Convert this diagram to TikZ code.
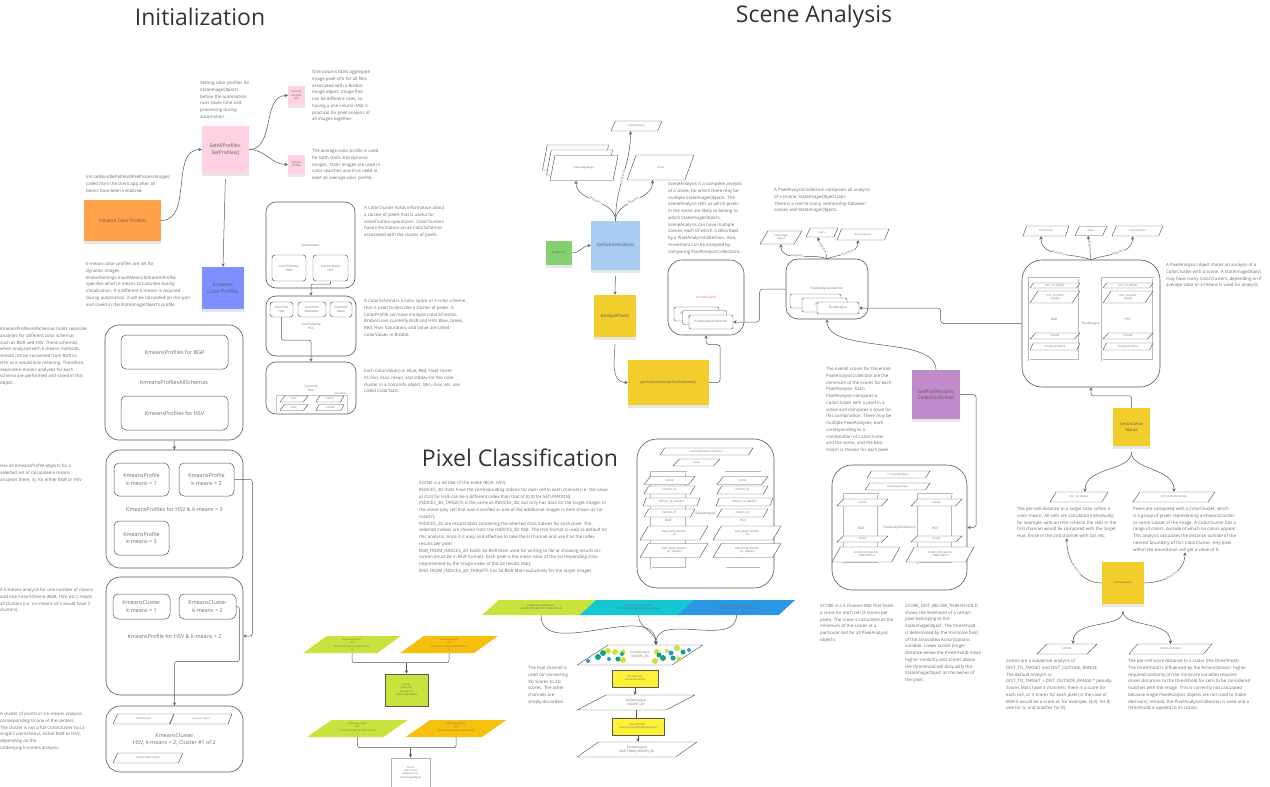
\documentclass[tikz,border=0pt]{standalone}
\usepackage{fontspec}
\setmainfont{Open Sans}
\usepackage{tikz}
\usetikzlibrary{positioning,shapes.geometric,shadows}

\definecolor{notegray}{HTML}{6B6B6B}
\definecolor{linegray}{HTML}{555555}
\definecolor{titlegray}{HTML}{333333}
\definecolor{orangeS}{HTML}{FFA149}
\definecolor{pinkS}{HTML}{FFD1E3}
\definecolor{blueS}{HTML}{7F8FFF}
\definecolor{skyS}{HTML}{A9CCF3}
\definecolor{greenS}{HTML}{86D16F}
\definecolor{yellowS}{HTML}{F2CE2C}
\definecolor{purpleS}{HTML}{C18ACB}
\definecolor{brightY}{HTML}{FFF236}
\definecolor{limeC}{HTML}{C9E23C}
\definecolor{cyanC}{HTML}{15C7D0}
\definecolor{blueC}{HTML}{2C96E6}
\definecolor{goldC}{HTML}{F7C00E}
\definecolor{dotTeal}{HTML}{17A086}
\definecolor{pinkT}{HTML}{E8559B}

\begin{document}
\begin{tikzpicture}[
  x=1pt, y=-1pt,
  >=stealth,
  every node/.style={text=notegray},
  wh/.style 2 args={minimum width=#1pt, minimum height=#2pt},
  ft/.style={font=\fontsize{2.5}{3.3}\selectfont},
  fs/.style={font=\fontsize{3.1}{4}\selectfont},
  fm/.style={font=\fontsize{4.6}{6}\selectfont},
  fb/.style={font=\fontsize{5.4}{7.4}\selectfont},
  title/.style={font=\fontsize{23}{28}\selectfont, text=titlegray},
  note/.style={anchor=north west, align=left, inner sep=0pt, font=\fontsize{4.4}{6.75}\selectfont},
  sticky/.style={rectangle, fill=#1, align=center, inner sep=1pt, text=black!65, fm,
    drop shadow={shadow xshift=0pt, shadow yshift=-2.5pt, opacity=.2}},
  frame/.style={draw=linegray, line width=.6pt, rounded corners=14pt, align=center, fb},
  inbox/.style={draw=linegray, line width=.5pt, rounded corners=5pt, align=center, fb},
  tinybox/.style={draw=linegray, line width=.45pt, rounded corners=3pt, align=center, inner sep=0pt, fs},
  para/.style={trapezium, trapezium left angle=55, trapezium right angle=125, trapezium stretches=true,
    draw=linegray, line width=.45pt, fill=white, inner sep=0pt, align=center, ft},
  lowpara/.style={para, trapezium left angle=40, trapezium right angle=140},
  flat/.style={trapezium left angle=35, trapezium right angle=145},
  column/.style={draw=gray!55, double=white, double distance=.5pt, inner sep=0pt, fs},
  method/.style={rectangle, fill=brightY, draw=gray!70!black, line width=.8pt, align=center, inner sep=0pt, ft, text=black!60},
  link/.style={draw=linegray, line width=.5pt},
  lbl/.style={font=\fontsize{3}{3.6}\selectfont, fill=white, inner sep=.5pt, sloped}
]
\useasboundingbox (0,0) rectangle (1270,787);

% TITLES
\node[title] (tInit) at (200,17) {Initialization};
\node[title] (tScene) at (814,17) {Scene Analysis};
\node[title] (tPixel) at (520,458) {Pixel Classification};

% INITIALIZATION
\node[sticky=orangeS, wh={77}{41}] (initCP) at (122.5,220.5) {Initialize Color Profiles};
\node[sticky=pinkS, wh={47}{47}, font=\fontsize{5}{6.5}\selectfont] (setProf) at (225.5,149.5) {SetAllProfiles.\\SetProfiles()};
\node[sticky=pinkS, wh={17}{19}, ft] (setMats) at (296.5,95.5) {SetOneC\\olumnM\\ats()};
\node[sticky=pinkS, wh={17}{19}, ft] (setColor) at (296.5,164.5) {SetColor\\Profile()};
\node[sticky=blueS, wh={42}{42}, font=\fontsize{5}{6.5}\selectfont] (kmeansCP) at (223,288) {k-means\\Color Profiles};

\draw[link,->] (initCP.east) to[out=0,in=180] (setProf.west);
\draw[link,->] (setProf.east) to[out=0,in=180] (setMats.west);
\draw[link,->] (setProf.east) to[out=0,in=180] (setColor.west);
\draw[link,->,shorten <=6pt] (setProf.south) -- (kmeansCP.north);

\node[note] (nInit) at (86,175) {Init.setBundlePathAndPreProcessImages:\\called from the client app after all\\beans have been initialized.};
\node[note] (nSetProf) at (200,81) {Setting color profiles for\\StateImageObjects\\before the automation\\runs saves time and\\processing during\\automation.};
\node[note] (nMats) at (312,70) {One column Mats aggregate\\image pixel info for all files\\associated with a Brobot\\image object. Image files\\can be different sizes, so\\having a one column Mat is\\practical for pixel analysis of\\all images together.};
\node[note] (nAvg) at (312,149) {The average color profile is used\\for both static and dynamic\\images. Static images are used in\\color searches and thus need at\\least an average color profile.};
\node[note] (nKmeans) at (86,262) {k-means color profiles are set for\\dynamic images.\\BrobotSettings.maxKMeansToStoreInProfile\\specifies which k-means to calculate during\\initialization. If a different k-means is required\\during automation, it will be calculated on the spot\\and saved in the StateImageObject's profile.};

% KMEANS PROFILES
\node[frame, wh={138}{115}] (allSchemas) at (174,382.5) {KmeansProfilesAllSchemas};
\node[inbox, wh={107}{34}] (bgrProfiles) at (174.5,352) {KmeansProfiles for BGR};
\node[inbox, wh={107}{34}] (hsvProfiles) at (174.5,413) {KmeansProfiles for HSV};

\node[frame, wh={137}{118}] (hsvK3) at (174.5,509) {KmeansProfiles for HSV \& k-means = 3};
\node[inbox, wh={55}{33}] (prof1) at (141.5,479.5) {KmeansProfile\\k-means = 1};
\node[inbox, wh={55}{33}] (prof2) at (206.5,479.5) {KmeansProfile\\k-means = 2};
\node[inbox, wh={55}{34}] (prof3) at (141.5,538) {KmeansProfile\\k-means = 3};

\node[frame, wh={137}{118}] (hsvK2) at (174.5,636) {KmeansProfile for HSV \& k-means = 2};
\node[inbox, wh={57}{25}] (clus1) at (141.5,606.5) {KmeansCluster\\k-means = 1};
\node[inbox, wh={57}{25}] (clus2) at (207.5,606.5) {KmeansCluster\\k-means = 2};

\node[frame, wh={137}{66}] (kCluster) at (174.5,739) {KmeansCluster\\HSV, k-means = 2, Cluster \#1 of 2};
\node[para, wh={61}{10}] (kSchema) at (143.5,719) {ColorSchema};
\node[para, wh={62}{10}] (kCenter) at (201,719) {k-means center};
\node[para, wh={70}{10}] (kPixels) at (148,758) {pixels (mask of Mat)};

\draw[link,->] (allSchemas.south) -- (hsvK3.north);
\draw[link,->,rounded corners=2pt] (prof2.east) -- ++(18,0) |- (hsvK2.east);
\draw[link,->,rounded corners=2pt] (clus2.east) -- ++(3,0) -- ++(0,55) -| (kCluster.north);

\node[note] (nAll) at (0,327) {KmeansProfilesAllSchemas holds separate\\analyses for different color schemas\\such as BGR and HSV. These schemas,\\when analyzed with k-means methods,\\should not be converted from BGR to\\HSV as it would lose meaning. Therefore,\\separate k-means analyses for each\\schema are performed and saved in this\\object.};
\node[note] (nHas) at (0,464) {Has all KmeansProfile objects for a\\selected set of calculated k-means\\analyses (here, 3), for either BGR or HSV};
\node[note] (nProfile) at (0,588) {A k-means analysis for one number of means\\and one ColorSchema (BGR, HSV, etc.). Holds\\all clusters (i.e. a k-means of 3 would have 3\\clusters).};
\node[note] (nCluster) at (0,712) {A cluster of points in a k-means analysis\\corresponding to one of the centers.\\The cluster is not a full ColorCluster but a\\single ColorSchema, either BGR or HSV,\\depending on the\\underlying k-means analysis.};

% COLOR CLUSTER
\node[frame, rounded corners=10pt, wh={89}{86}, fs] (ccBox) at (310.5,245) {ColorCluster};
\node[tinybox, wh={34}{26}] (csBGR) at (289,268) {ColorSchema\\BGR};
\node[tinybox, wh={35}{26}] (csHSV) at (330.5,268) {ColorSchema\\HSV};

\node[frame, rounded corners=10pt, wh={90}{60}, fs] (csBox) at (311,326) {ColorSchema\\HSV};
\node[tinybox, wh={23}{15}] (ciHue) at (281.5,309.5) {ColorInfo\\Hue};
\node[tinybox, wh={28}{15}] (ciSat) at (312,309.5) {ColorInfo\\Saturation};
\node[tinybox, wh={22}{15}] (ciVal) at (341,309.5) {ColorInfo\\Value};

\node[frame, rounded corners=10pt, wh={90}{52}, fs] (ciBox) at (311,388) {ColorInfo\\Hue};
\node[draw=gray!45, wh={71}{19}, inner sep=0pt] (stats) at (311.5,404.5) {};
\node[ft, anchor=south east, inner sep=.5pt] (statsLbl) at (stats.north east) {ColorStats};
\node[para, wh={28}{6}] (sMin) at (294,399) {MIN};
\node[para, wh={28}{6}] (sMax) at (294,407.5) {MAX};
\node[para, wh={28}{6}] (sMean) at (330,399) {MEAN};
\node[para, wh={28}{6}] (sStd) at (330,407.5) {STDDEV};

\draw[link,->,rounded corners=1pt] (csHSV.south) -- ++(0,3) -| (csBox.north);
\draw[link,->,rounded corners=2pt] (ciHue.south) -- ++(0,23) -| (ciBox.north);

\node[note] (nCC) at (364,206) {A ColorCluster holds information about\\a cluster of pixels that is useful for\\classification operations. ColorClusters\\have information on all ColorSchemas\\associated with the cluster of pixels.};
\node[note] (nCS) at (364,299) {A ColorSchema is a color space or a color scheme\\that is used to describe a cluster of pixels. A\\ColorProfile can have multiple ColorSchemas.\\Brobot uses currently BGR and HSV. Blue, Green,\\Red, Hue, Saturation, and Value are called\\ColorValues in Brobot.};
\node[note] (nCI) at (364,369) {Each ColorValue (i.e. Blue, Red, Hue) stores\\its min, max, mean, and stddev for the color\\cluster in a ColorInfo object. Min, max, etc. are\\called ColorStats.};

% SCENE ANALYSIS
\node[para, wh={66}{25}] (sio1) at (575.5,157.5) {\phantom{StateImageObject}};
\node[para, wh={66}{25}] (sio2) at (579.5,162.5) {\phantom{StateImageObject}};
\node[para, wh={68}{25}] (sio3) at (584,168) {StateImageObject};
\node[para, wh={51}{10}] (act1) at (636.5,126) {ActionOptions};
\node[para, wh={67}{25}] (scene1) at (660.5,167.5) {Scene};

\node[sticky=greenS, wh={26}{24}, ft] (findColor) at (559,253) {FindByColor};
\node[sticky=skyS, wh={49}{49}] (getSA) at (615.5,245.5) {GetSceneAnalysis};
\node[sticky=yellowS, wh={42}{42}] (analyze) at (615,316) {AnalyzePixels};
\node[sticky=yellowS, wh={81}{45}, font=\fontsize{3.6}{4.5}\selectfont] (getGroups) at (668.5,382.5) {getAnalysisGroupsForOneScene()};

\draw[link,->] (getSA.north) to[out=90,in=-90] node[lbl] {Requires} ([xshift=-8pt]sio3.south);
\draw[link,->] (getSA.north) to[out=90,in=-90] node[lbl] {Optional} ([xshift=-6pt]act1.south);
\draw[link,->] (getSA.north) to[out=90,in=-90] node[lbl] {Requires} ([xshift=-8pt]scene1.south);
\draw[link,->] (findColor.east) to[out=0,in=180] (getSA.west);
\draw[link,->,shorten <=6pt] (getSA.south) -- (analyze.north);
\draw[link,->,shorten <=7pt] (analyze.south) to[out=-90,in=180] (getGroups.west);

\node[frame, wh={76}{75}, fs, text=pinkT] (saBox) at (706,297.5) {SceneAnalysis};
\node[tinybox, rounded corners=2pt, fill=white, wh={45}{14}] (sapac1) at (696.5,314) {PixelAnalysisCollection};
\node[tinybox, rounded corners=2pt, fill=white, wh={44}{14}] (sapac2) at (704.5,317.5) {PixelAnalysisCollection};
\node[tinybox, rounded corners=2pt, fill=white, wh={44}{14}] (sapac3) at (711,322) {PixelAnalysisCollection};
\draw[link,->,rounded corners=3pt] (getGroups.east) -- ++(11,0) -- ++(0,-38) -| (saBox.south);

\node[frame, rounded corners=12pt, wh={82}{60}, fs] (pacBox) at (827,289) {PixelAnalysisCollection};
\node[tinybox, rounded corners=2pt, fill=white, wh={51}{14}] (pa1) at (815.5,301) {PixelAnalysis};
\node[tinybox, rounded corners=2pt, fill=white, wh={45}{14}] (pa2) at (824.5,305) {PixelAnalysis};
\node[tinybox, rounded corners=2pt, fill=white, wh={42}{12}] (pa3) at (838,308) {PixelAnalysis};
\draw[link,->,rounded corners=3pt] (pacBox.west) -- ++(-26,0) |- (sapac3.east);

\node[para, wh={42}{13}] (sio4) at (781,237.5) {StateImage\\Object};
\node[para, wh={32}{9}] (scene2) at (822,232.5) {Scene};
\node[para, wh={52}{11}] (act2) at (863,234.5) {ActionOptions};
\draw[link,->] (pacBox.north) to[out=160,in=-90] node[lbl] {Requires} (sio4.south);
\draw[link,->] (pacBox.north) to[out=95,in=-80] node[lbl] {Optional} ([xshift=-4pt]scene2.south);
\draw[link,->] (pacBox.north) to[out=20,in=-90] node[lbl] {Requires} ([xshift=-5pt]act2.south);

\node[sticky=purpleS, wh={48}{49}, font=\fontsize{4.8}{6.2}\selectfont] (getPACS) at (936,394.5) {GetPixelAnalysis\\CollectionScores};
\draw[link,->] (getPACS.north) .. controls +(0,-35) and +(0,35) .. (pacBox.south);

\node[note] (nSA) at (668,182) {SceneAnalysis is a complete analysis\\of a scene, for which there may be\\multiple StateImageObjects. The\\SceneAnalysis tells us which pixels\\in the scene are likely to belong to\\which StateImageObjects.\\SceneAnalysis can have multiple\\scenes, each of which is described\\by a PixelAnalysisCollection. Also,\\movement can be analyzed by\\comparing PixelAnalysisCollections.};
\node[note] (nPAC) at (774,188) {A PixelAnalysisCollection comprises all analysis\\of a (scene, StateImageObject) pair.\\There is a one-to-many relationship between\\scenes and StateImageObjects.};
\node[note] (nScores) at (826,367) {The overall scores for the entire\\PixelAnalysisCollection are the\\minimum of the scores for each\\PixelAnalysis. Each\\PixelAnalysis compares a\\ColorCluster with a pixel in a\\scene and computes a score for\\this combination. There may be\\multiple PixelAnalyses, each\\corresponding to a\\combination of ColorCluster\\and the scene, and the best\\match is chosen for each pixel.};

% PIXEL ANALYSIS
\node[frame, rounded corners=20pt, wh={138}{127}, fs] (paBox) at (1091,323.5) {PixelAnalysis};
\node[column, wh={50}{82}] (paBGR) at (1054,319) {BGR};
\node[column, wh={51}{82}] (paHSV) at (1127.5,319) {HSV};
\node[para, wh={50}{5}] (dttB) at (1055,285.5) {DIST\_TO\_TARGET};
\node[para, wh={50}{12}] (dorB) at (1055,297) {DIST\_OUTSIDE\\\_RANGE};
\node[para, wh={50}{6}] (scB) at (1055,336) {SCORES};
\node[para, wh={50}{7}] (sdB) at (1055,346.5) {SCORE\_DISTANCE};
\node[para, wh={50}{5}] (dttH) at (1128,285.5) {DIST\_TO\_TARGET};
\node[para, wh={50}{12}] (dorH) at (1128,297) {DIST\_OUTSIDE\\\_RANGE};
\node[para, wh={50}{6}] (scH) at (1128,336) {SCORES};
\node[para, wh={50}{7}] (sdH) at (1128,346.5) {SCORE\_DISTANCE};
\draw[link,->,rounded corners=3pt] (paBox.west) -- ++(-81,0) |- (pa3.east);

\node[para, wh={46}{10}] (ccP) at (1046,231) {ColorCluster};
\node[para, wh={32}{9}] (scene3) at (1091,231) {Scene};
\node[para, wh={51}{10}] (act3) at (1137.5,231) {ActionOptions};
\draw[link,->] (paBox.north) to[out=160,in=-90] node[lbl] {Requires} ([xshift=-5pt]ccP.south);
\draw[link,->] (paBox.north) to[out=95,in=-80] node[lbl] {Optional} ([xshift=-3pt]scene3.south);
\draw[link,->] (paBox.north) to[out=20,in=-90] node[lbl] {Requires} ([xshift=-5pt]act3.south);

\node[note] (nPA) at (1166,263) {A PixelAnalysis object stores an analysis of a\\ColorCluster with a scene. A StateImageObject\\may have many ColorClusters, depending on if\\average color or k-means is used for analysis.};

\node[sticky=yellowS, wh={37}{38}, font=\fontsize{4}{5.4}\selectfont] (getDist) at (1131.5,427) {GetDistance\\Matrix};
\draw[link,->,rounded corners=2pt] (getDist.north) -- ++(0,-12) -| (paBox.south);
\node[lowpara, wh={58}{10}] (dtt) at (1079,497) {DIST\_TO\_TARGET};
\node[lowpara, wh={82}{10}] (dor) at (1174,497) {DIST\_OUTSIDE\_RANGE};
\draw[link,->,shorten <=6pt] (getDist.south) to[out=-90,in=90] ([xshift=6pt]dtt.north);
\draw[link,->,shorten <=6pt] (getDist.south) to[out=-90,in=90] (dor.north);

\node[note] (nDtt) at (1017,507) {The per-cell distance to a target color (often a\\color mean). All cells are calculated individually;\\for example, with an HSV schema the cells in the\\first channel would be compared with the target\\Hue, those in the 2nd channel with Sat, etc.};
\node[note] (nDor) at (1133,507) {Pixels are compared with a ColorCluster, which\\is a group of pixels representing a KmeansCluster\\or some subset of the image. A ColorCluster has a\\range of colors, outside of which no colors appear.\\This analysis calculates the distance outside of the\\nearest boundary of this ColorCluster. Any pixel\\within the boundaries will get a value of 0.};

\node[sticky=yellowS, wh={42}{42}, ft] (getScores) at (1123,583) {GetPixelScores};
\draw[link,->] (getScores.west) to[out=180,in=-90] node[lbl] {Requires} (nDtt.south);
\draw[link,->] (getScores.east) to[out=0,in=-90] node[lbl] {Requires} (nDor.south);
\node[lowpara, wh={60}{10}] (scores) at (1067,649) {SCORES};
\node[lowpara, wh={83}{10}] (scoreDist) at (1170.5,649) {SCORE\_DISTANCE};
\draw[link,->,shorten <=7pt] (getScores.south) to[out=-90,in=90] ([xshift=6pt]scores.north);
\draw[link,->,shorten <=7pt] (getScores.south) to[out=-90,in=90] (scoreDist.north);

\node[note] (nSc) at (1006,659) {Scores are a subjective analysis of\\DIST\_TO\_TARGET and DIST\_OUTSIDE\_RANGE.\\The default analysis is:\\DIST\_TO\_TARGET + DIST\_OUTSIDE\_RANGE * penalty.\\Scores Mats have 3 channels: there is a score for\\each cell, or 3 scores for each pixel (in the case of\\BGR it would be a score at, for example, (4,0), for B,\\one for G, and another for R).};
\node[note] (nSd) at (1128,659) {The per-cell score distance to a scalar (the threshhold).\\The threshhold is influenced by the ActionOptions: higher\\required similarity (in the minScore variable) requires\\closer distances to the threshhold for cells to be considered\\matches with the image. This is currently not calculated\\because single PixelAnalysis objects are not used to make\\decisions; instead, the PixelAnalysisCollection is used and a\\threshhold is applied to its scores.};

% PIXEL ANALYSIS COLLECTION
\node[frame, rounded corners=20pt, wh={135}{125}, fs] (pcBox) at (899.5,527.5) {PixelAnalysisCollection};
\node[para, wh={63}{7}] (pcList) at (898.5,474.5) {List<PixelAnalysis>};
\node[para, wh={65}{7}] (pcSIO) at (897.5,486.5) {StateImageObject};
\node[column, wh={34}{69}] (pcBGR) at (861,528.5) {BGR};
\node[column, wh={34}{69}] (pcHSV) at (935,528.5) {HSV};
\node[para, wh={51}{7}] (pcSceneB) at (862.5,502.5) {SCENE};
\node[para, wh={51}{6}] (pcScoreB) at (862.5,539) {SCORE};
\node[para, wh={68}{15}] (pcDistB) at (866,554.5) {SCORE\_DIST\_BELOW\\\_THRESHHOLD};
\node[para, wh={51}{7}] (pcSceneH) at (936.5,502.5) {SCENE};
\node[para, wh={51}{6}] (pcScoreH) at (936.5,539) {SCORE};
\node[para, wh={68}{15}] (pcDistH) at (940,554.5) {SCORE\_DIST\_BELOW\\\_THRESHHOLD};
\draw[link,->,rounded corners=3pt] (getPACS.east) -- ++(16,0) |- (pcBox.east);

\node[note] (nScore) at (820,604) {SCORE is a 3 channel Mat that holds\\a score for each cell (3 scores per\\pixel). The score is calculated as the\\minimum of the scores at a\\particular cell for all PixelAnalysis\\objects.};
\node[note] (nBelow) at (905,604) {SCORE\_DIST\_BELOW\_THRESHHOLD\\shows the likelihood of a certain\\pixel belonging to this\\StateImageObject. The threshhold\\is determined by the minScore field\\of the associated ActionOptions\\variable. Lower scores (larger\\distance below the threshhold) mean\\higher similarity and scores above\\the threshhold will disqualify this\\StateImageObject as the owner of\\the pixel.};

% SCENE ANALYSIS (PIXEL CLASSIFICATION)
\node[frame, rounded corners=20pt, wh={137}{149}, fs] (saFull) at (705.5,513.5) {SceneAnalysis};
\node[para, wh={93}{7}] (saList) at (706.5,451.5) {List<PixelAnalysisCollection>};
\node[para, wh={47}{7}] (saScene) at (696.5,462.5) {Scene};
\node[column, wh={35}{96}] (saBGR) at (668.5,520) {BGR};
\node[column, wh={35}{96}] (saHSV) at (743,520) {HSV};
\node[para, wh={51}{8}] (bScene) at (669.5,480.5) {SCENE};
\node[para, wh={51}{8}] (bI3) at (669.5,490) {INDICES\_3D};
\node[para, wh={57}{8}] (bI3T) at (671.5,502) {INDICES\_3D\_TARGETS};
\node[para, wh={51}{8}] (bI2) at (669.5,513) {INDICES\_2D};
\node[para, wh={68}{14}] (bB2) at (674,533) {BGR\_FROM\_INDICES\\\_2D};
\node[para, wh={68}{14}] (bB2T) at (674,550.5) {BGR\_FROM\_INDICES\\\_2D\_TARGETS};
\node[para, wh={51}{8}] (hScene) at (742.5,480.5) {SCENE};
\node[para, wh={51}{8}] (hI3) at (742.5,490) {INDICES\_3D};
\node[para, wh={57}{8}] (hI3T) at (744.5,502) {INDICES\_3D\_TARGETS};
\node[para, wh={51}{8}] (hI2) at (742.5,513) {INDICES\_2D};
\node[para, wh={68}{14}] (hB2) at (747,533) {BGR\_FROM\_INDICES\\\_2D};
\node[para, wh={68}{14}] (hB2T) at (747,550.5) {BGR\_FROM\_INDICES\\\_2D\_TARGETS};

\node[note] (nScene) at (419,481) {SCENE is a 3d Mat of the scene (BGR, HSV).\\INDICES\_3D mats have the corresponding indices for each cell in each channel (i.e. the value\\at (0,0) for HUE can be a different index than that at (0,0) for SATURATION).\\INDICES\_3D\_TARGETS is the same as INDICES\_3D, but only has data for the target images in\\the scene (any cell that was classified as one of the additional images is here shown as 'no\\match').\\INDICES\_2D are results Mats containing the selected class indices for each pixel. The\\selected indices are chosen from the INDICES\_3D Mat. The HSV format is used as default for\\this analysis, since it is easy and effective to take the H channel and use it as the index\\results per pixel.\\BGR\_FROM\_INDICES\_2D holds 3d BGR Mats used for writing to file or showing results on-\\screen (must be in BGR format). Each pixel is the mean color of the corresponding class\\(represented by the image index of the 2d results Mat).\\BGR\_FROM\_INDICES\_2D\_TARGETS has 3d BGR Mats exclusively for the target images.};

% CLASSIFICATION FLOW
\node[para, flat, fill=limeC, draw=none, wh={118}{15}, text=black!60] (pc1) at (541,607.5) {PixelAnalysisCollection1\\SCORE\_DIST\_BELOW\_THRESHHOLD};
\node[para, flat, fill=cyanC, draw=none, wh={118}{15}, text=black!60] (pc2) at (638.5,607.5) {PixelAnalysisCollection2\\SCORE\_DIST\_BELOW\_THRESHHOLD};
\node[para, flat, fill=blueC, draw=none, wh={118}{15}, text=black!60] (pc3) at (736.5,607.5) {PixelAnalysisCollection3\\SCORE\_DIST\_BELOW\_THRESHHOLD};

\node[para, flat, wh={126}{20}, fs] (sai3d) at (640,655) {SceneAnalysis\\INDICES\_3D};
\foreach \px/\py/\r/\col in {588/661/2pt/blueC, 598/657/3pt/dotTeal, 603/653/3pt/dotTeal, 608/651/3pt/limeC,
  615/652/3pt/limeC, 618/659/2.5pt/dotTeal, 609/659/2pt/blueC, 623/652/2.5pt/limeC, 622/654/2pt/dotTeal,
  623/660/3pt/limeC, 657/652/3pt/limeC, 671/653/2.5pt/blueC, 677/648/3pt/limeC, 663/658/3pt/dotTeal,
  673/658/2.5pt/dotTeal, 655/661/3pt/limeC, 689/650/2pt/blueC, 679/659/2.5pt/limeC, 683/652/2.5pt/dotTeal,
  659/655/2.5pt/dotTeal, 667/651/2pt/limeC}
  \fill[\col] (\px,\py) circle (\r);

\draw[link,->] (pc1.south) to[out=-90,in=90] ([xshift=16pt]sai3d.north);
\draw[link,->] (pc2.south) to[out=-90,in=90] ([xshift=16pt]sai3d.north);
\draw[link,->] (pc3.south) to[out=-90,in=90] ([xshift=16pt]sai3d.north);

\node[method, wh={46}{17}] (classify1) at (635,678.5) {ClassifyPixels.\\set2dIndicesHSV()};
\node[para, flat, wh={118}{15}, fs] (ind2d) at (636,702.5) {SceneAnalysis\\INDICES\_2D};
\node[method, wh={52}{17}] (classify2) at (638,726.5) {ClassifyPixels.\\convertIndices2dToBGRImages()};
\node[para, flat, wh={120}{15}, fs] (bgr2d) at (637,749.5) {SceneAnalysis\\BGR\_FROM\_INDICES\_2D};
\draw[link,->] (classify1.south) -- (classify1.south |- ind2d.north);
\draw[link] (ind2d.south) -- (ind2d.south |- classify2.north);
\draw[link,->] (classify2.south) -- (classify2.south |- bgr2d.north);

\node[note] (nHue) at (528,666) {The Hue channel is\\used for converting\\3D Scores to 2D\\scores. The other\\channels are\\simply discarded.};

% PIXEL OWNERSHIP
\node[para, flat, fill=limeC, draw=none, wh={98}{17}, font=\fontsize{2.2}{3.4}\selectfont] (sioA1) at (352,644.5) {StateImageObject1\\HSV\\SCORE\_DIST\_BELOW\_THRESHHOLD\\15};
\node[para, flat, fill=goldC, draw=none, wh={98}{17}, font=\fontsize{2.2}{3.4}\selectfont] (sioA2) at (449,644.5) {StateImageObject2\\HSV\\SCORE\_DIST\_BELOW\_THRESHHOLD\\8};
\node[rectangle, fill=limeC, draw=gray!70!black, line width=.9pt, wh={43}{32}, ft, align=center, inner sep=0pt] (pixOwn1) at (406.5,690) {Scene\\Pixel (1,0)\\belongs to\\StateImageObject1};
\draw[link,rounded corners=2pt] (sioA1.south) |- ([yshift=11pt]pixOwn1.north);
\draw[link,rounded corners=2pt] (sioA2.south) |- ([yshift=11pt]pixOwn1.north);
\draw[link,->] ([yshift=11pt]pixOwn1.north) -- (pixOwn1.north);

\node[para, flat, fill=limeC, draw=none, wh={101}{17}, font=\fontsize{2.2}{3.4}\selectfont] (sioB1) at (357.5,728.5) {StateImageObject1\\HSV\\SCORE\_DIST\_BELOW\_THRESHHOLD\\5};
\node[para, flat, fill=goldC, draw=none, wh={101}{17}, font=\fontsize{2.2}{3.4}\selectfont] (sioB2) at (456,728.5) {StateImageObject2\\HSV\\SCORE\_DIST\_BELOW\_THRESHHOLD\\3};
\node[rectangle, fill=white, draw=gray!60, line width=.9pt, wh={39}{29}, ft, align=center, inner sep=0pt] (pixOwn2) at (410.5,772.5) {Scene\\Pixel (1,0,0)\\belongs to no\\StateImageObject};
\draw[link,rounded corners=2pt] (sioB1.south) |- ([yshift=10pt]pixOwn2.north);
\draw[link,rounded corners=2pt] (sioB2.south) |- ([yshift=10pt]pixOwn2.north);
\draw[link,->] ([yshift=10pt]pixOwn2.north) -- (pixOwn2.north);

\end{tikzpicture}
\end{document}
